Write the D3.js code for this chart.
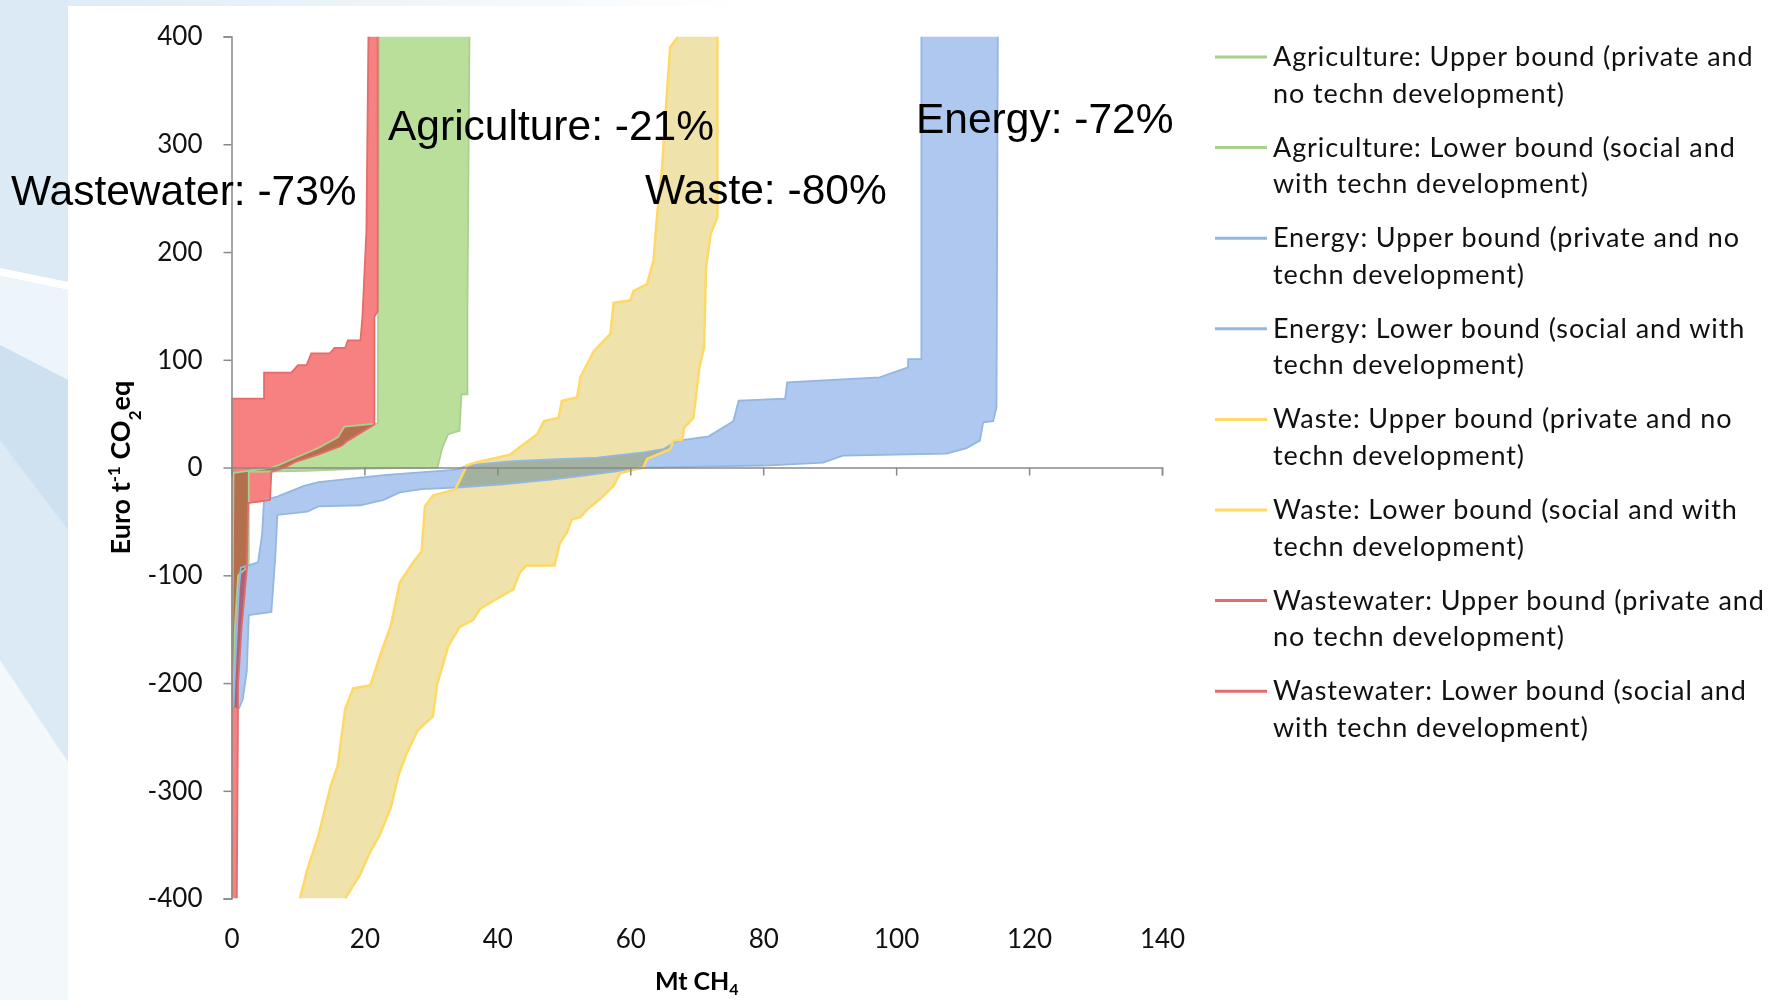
<!DOCTYPE html>
<html>
<head>
<meta charset="utf-8">
<script src="https://cdn.jsdelivr.net/npm/d3@7"></script>
<style>
  html, body { margin: 0; padding: 0; background: #fff; }
  svg { display: block; }
</style>
</head>
<body>
<div id="chart"></div>
<script>
// ---- data (Mt CH4 cumulative, Euro per t CO2eq) ----
const sectors = ['Agriculture', 'Energy', 'Waste', 'Wastewater'];

const agricultureUpper = [[0,-215],[0.2,-95],[0.3,-5],[6,0],[7,2],[10,10],[13,18],[16,28],[17,38],[22,41],[22.2,400]];
const agricultureLower = [[0.3,-215],[0.5,-150],[1,-100],[2.6,-91],[2.6,-4],[11,-3],[20,-1],[31,0],[31.7,18],[32.6,31],[34.3,34],[34.6,68],[35.5,68],[35.5,149],[35.8,400]];

const energyUpper = [[0.3,-222],[0.6,-179],[1.1,-114],[1.4,-93],[4,-88],[4.6,-62],[4.9,-30],[6.9,-27],[10.9,-17],[13.1,-13.6],[22.9,-7],[33.9,-2],[35.4,1.5],[36.9,3],[42.4,6],[49,7.7],[55,9.3],[62,14],[65,17],[67,24.7],[71.8,29],[75.5,43],[76.3,62],[83.3,64],[83.6,79],[97.5,83.6],[101.8,93],[101.8,100.6],[103.8,100.6],[103.8,400]];
const energyLower = [[1.1,-224],[1.7,-215],[2.3,-189],[2.6,-137],[6,-134],[6.6,-82],[6.9,-44],[11.4,-41],[13.1,-36],[19.4,-35],[22.9,-30],[25.3,-23],[28.6,-20],[33.9,-18.5],[40.9,-15.5],[48.4,-11],[52.4,-8],[58.4,-3],[62.5,0],[72,1],[81,2],[89,4.6],[92,11],[107.6,13],[110.6,18],[112.6,25],[113.1,42],[114.6,43],[115.1,56],[115.3,400]];

const wasteUpper = [[10.3,-400],[11.4,-373],[13.1,-341],[14.9,-296],[16,-276],[17.1,-224],[18.3,-205],[20.9,-202],[22.6,-170],[24,-146],[25.3,-107],[27.3,-88],[28.6,-78],[29.1,-36],[30.3,-26],[33.7,-20],[34.5,-10],[35.4,2],[36.9,5],[41.9,12],[43.4,19],[46,31],[47,43],[49.2,46],[49.7,62],[52,65],[52.5,84],[54.5,108],[57,124],[57.5,153],[60,155],[60.5,164],[62.5,170],[63.5,192],[64,232],[64.8,279],[65.5,347],[66,390],[67.2,400]];
const wasteLower = [[17.1,-400],[19.4,-377],[20.6,-360],[22.3,-341],[24,-315],[25.1,-286],[26.3,-266],[28,-244],[30.3,-231],[30.9,-202],[32,-179],[32.6,-166],[34.3,-148],[36.4,-141],[37.4,-131],[39.9,-122],[42.4,-113],[43.4,-97],[44.4,-91],[48.6,-91],[49.4,-70],[50.5,-60],[51.2,-48],[52.5,-46],[53.5,-39],[55.5,-29],[57.5,-17],[58.5,-5],[62,0],[62.5,8],[66,17],[66.5,25],[67.8,26],[68.1,37],[69.5,46],[70.4,93],[71.1,111],[71.4,186],[72.1,217],[73.1,232],[73.1,400]];

const wastewaterUpper = [[0,-400],[0,64],[4.9,64],[4.9,88],[9,88],[10,95],[11.3,95],[12,106],[14.8,106],[15.5,111],[17.1,111],[17.5,118],[19.4,118],[19.7,140],[20.3,220],[20.6,400]];
const wastewaterLower = [[0.8,-400],[1,-200],[1.5,-150],[2.3,-95],[2.5,-33],[5.8,-30],[6,-4],[8,0],[9.5,5],[13,12],[16.5,20],[17.5,25],[21.5,40],[21.5,140],[22,145],[22,400]];

const reductionLabels = ['Wastewater: -73%', 'Agriculture: -21%', 'Waste: -80%', 'Energy: -72%'];

const legendLabels = [
  ['Agriculture: Upper bound (private and', 'no techn development)'],
  ['Agriculture: Lower bound (social and', 'with techn development)'],
  ['Energy: Upper bound (private and no', 'techn development)'],
  ['Energy: Lower bound (social and with', 'techn development)'],
  ['Waste: Upper bound (private and no', 'techn development)'],
  ['Waste: Lower bound (social and with', 'techn development)'],
  ['Wastewater: Upper bound (private and', 'no techn development)'],
  ['Wastewater: Lower bound (social and', 'with techn development)']
];

const xTicks = [0, 20, 40, 60, 80, 100, 120, 140];
const yTicks = [-400, -300, -200, -100, 0, 100, 200, 300, 400];

// ---- layout ----
const W = 1788, H = 1000;
const fillColor = { Agriculture: '#badf9a', Energy: '#aec8ef', Waste: '#efe2ab', Wastewater: '#f78080' };
const lineColor = { Agriculture: '#a9d18e', Energy: '#93b7e2', Waste: '#ffd966', Wastewater: '#e46c6c' };
const bands = {
  Agriculture: [agricultureUpper, agricultureLower],
  Energy: [energyUpper, energyLower],
  Waste: [wasteUpper, wasteLower],
  Wastewater: [wastewaterUpper, wastewaterLower]
};

const svg = d3.select('#chart').append('svg')
    .attr('width', W)
    .attr('height', H);

// slide background on the left / top
const defs = svg.append('defs');
const grad = defs.append('linearGradient').attr('id', 'topfade');
grad.append('stop').attr('offset', '0%').attr('stop-color', '#dbeaf4');
grad.append('stop').attr('offset', '42%').attr('stop-color', '#ffffff');

svg.append('rect').attr('width', W).attr('height', H).attr('fill', '#fff');
svg.append('rect').attr('width', W).attr('height', 6).attr('fill', 'url(#topfade)');
svg.append('rect').attr('width', 68).attr('height', H).attr('fill', '#dbeaf4');
const deco = [
  { pts: [[0,268],[68,282],[68,290],[0,276]], c: '#ffffff' },
  { pts: [[0,276],[68,290],[68,380],[0,345]], c: '#eef5fa' },
  { pts: [[0,345],[68,380],[68,530],[0,440]], c: '#cde1f0' },
  { pts: [[0,660],[68,762],[68,H],[0,H]], c: '#f3f8fb' }
];
svg.selectAll('.deco').data(deco).enter().append('polygon')
    .attr('class', 'deco')
    .attr('points', d => d.pts.map(p => p.join(',')).join(' '))
    .attr('fill', d => d.c);

const x = d3.scaleLinear().domain([0, 140]).range([231.5, 1162]);
const y = d3.scaleLinear().domain([-400, 400]).range([898.6, 36.5]);

defs.append('clipPath').attr('id', 'plotclip')
  .append('rect')
    .attr('x', x(0)).attr('y', y(400))
    .attr('width', x(140) - x(0)).attr('height', y(-400) - y(400));

const line = d3.line().x(d => x(d[0])).y(d => y(d[1]));

const plot = svg.append('g').attr('clip-path', 'url(#plotclip)');

// bands between upper and lower bound curves
sectors.forEach(s => {
  const [up, lo] = bands[s];
  plot.append('path')
      .attr('d', line(up.concat(lo.slice().reverse())) + 'Z')
      .attr('fill', fillColor[s])
      .style('mix-blend-mode', 'multiply');
});
sectors.forEach(s => {
  bands[s].forEach(curve => {
    plot.append('path')
        .attr('d', line(curve))
        .attr('fill', 'none')
        .attr('stroke', lineColor[s])
        .attr('stroke-width', s === 'Waste' ? 2.5 : 1.8);
  });
});

// axes
const tickFont = 'Lato, "Open Sans", sans-serif';
const yAxis = svg.append('g')
    .attr('transform', `translate(${x(0)},0)`)
    .call(d3.axisLeft(y).tickValues(yTicks).tickSize(8).tickPadding(21).tickFormat(d => String(d)));
const xAxis = svg.append('g')
    .attr('transform', `translate(0,${y(0)})`)
    .call(d3.axisBottom(x).tickValues(xTicks).tickSize(8).tickFormat(''));
[yAxis, xAxis].forEach(a => {
  a.select('.domain').attr('stroke', '#898989').attr('stroke-width', 1.5);
  a.selectAll('.tick line').attr('stroke', '#898989').attr('stroke-width', 1.5);
});
yAxis.selectAll('.tick text')
    .style('font-family', tickFont).style('font-size', '26px').attr('fill', '#111');

svg.append('g')
    .attr('transform', `translate(0,${y(-400) + 28})`)
    .call(d3.axisBottom(x).tickValues(xTicks).tickSize(0).tickFormat(d => String(d)))
    .call(g => g.select('.domain').remove())
    .selectAll('text')
    .style('font-family', tickFont).style('font-size', '26px').attr('fill', '#111');

// axis titles
const xt = svg.append('text')
    .attr('x', (x(0) + x(140)) / 2)
    .attr('y', 990)
    .attr('text-anchor', 'middle')
    .style('font-family', tickFont).style('font-size', '25px').style('font-weight', 'bold');
xt.append('tspan').text('Mt CH');
xt.append('tspan').attr('dy', 5).style('font-size', '16px').text('4');

const yt = svg.append('text')
    .attr('transform', `translate(130,${y(0)}) rotate(-90)`)
    .attr('text-anchor', 'middle')
    .style('font-family', tickFont).style('font-size', '27px').style('font-weight', 'bold');
yt.append('tspan').text('Euro t');
yt.append('tspan').attr('baseline-shift', 'super').style('font-size', '17px').text('-1');
yt.append('tspan').text(' CO');
yt.append('tspan').attr('baseline-shift', 'sub').style('font-size', '17px').text('2');
yt.append('tspan').text('eq');

// reduction annotations
const annPos = [[11, 205], [388, 140], [645, 204], [916, 133]];
svg.selectAll('.ann').data(reductionLabels).enter().append('text')
    .attr('class', 'ann')
    .attr('x', (d, i) => annPos[i][0])
    .attr('y', (d, i) => annPos[i][1])
    .style('font-family', '"Liberation Sans", Arial, sans-serif')
    .style('font-size', '42.5px')
    .attr('fill', '#000')
    .text(d => d);

// legend
const legendColors = ['Agriculture', 'Agriculture', 'Energy', 'Energy', 'Waste', 'Waste', 'Wastewater', 'Wastewater'];
const lg = svg.selectAll('.leg').data(legendLabels).enter().append('g')
    .attr('class', 'leg')
    .attr('transform', (d, i) => `translate(1215,${57 + i * 90.6})`);
lg.append('line')
    .attr('x1', 0).attr('x2', 52).attr('y1', 0).attr('y2', 0)
    .attr('stroke', (d, i) => lineColor[legendColors[i]])
    .attr('stroke-width', 3);
lg.append('text')
    .attr('x', 58)
    .style('font-family', tickFont).style('font-size', '27px')
    .style('letter-spacing', '0.9px').attr('fill', '#111')
    .selectAll('tspan').data(d => d).enter().append('tspan')
      .attr('x', 58)
      .attr('y', (d, i) => 9 + i * 36.5)
      .text(d => d);
</script>
</body>
</html>
